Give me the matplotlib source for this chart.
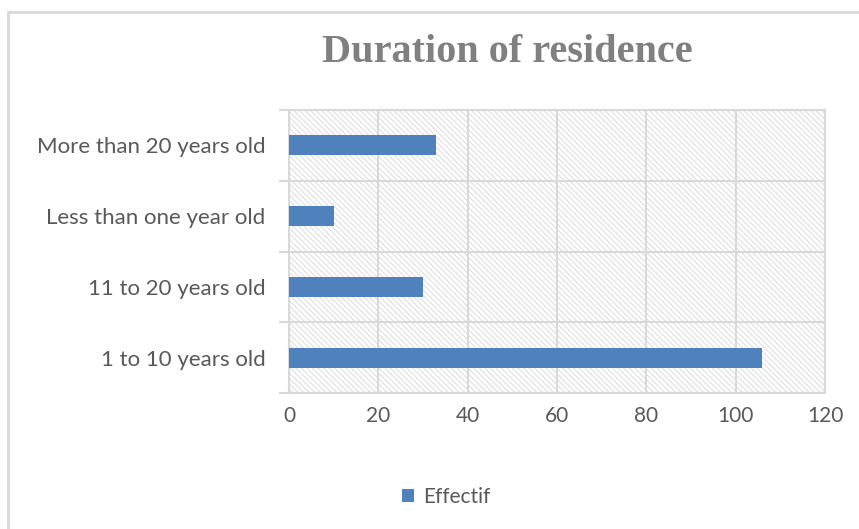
import matplotlib.pyplot as plt
from matplotlib.patches import Rectangle

categories = ["1 to 10 years old", "11 to 20 years old",
              "Less than one year old", "More than 20 years old"]
effectif = [106, 30, 10, 33]
x_ticks = [0, 20, 40, 60, 80, 100, 120]

grid_col = "#d9d9d9"
text_col = "#595959"
bar_col = "#4f81bd"

plt.rcParams["font.family"] = ["Lato", "DejaVu Sans"]
plt.rcParams["hatch.linewidth"] = 0.7

fig = plt.figure(figsize=(8.59, 5.29), dpi=100)
ax = fig.add_axes([289 / 859, 1 - 393 / 529, 536 / 859, 283 / 529])

# outer chart frame
fig.patches.append(Rectangle((7.5 / 859, -0.05), 1.1, 1 - 11.5 / 529 + 0.05,
                             transform=fig.transFigure, fill=False,
                             edgecolor=grid_col, linewidth=2))

# hatched plot area
ax.add_patch(Rectangle((0, 0), 1, 1, transform=ax.transAxes, facecolor="white",
                       edgecolor="#dcdcdc", linewidth=0, hatch="\\" * 6, zorder=0))

y = range(len(categories))
ax.barh(y, effectif, height=0.28, color=bar_col, label="Effectif", zorder=3)

ax.set_xlim(0, 120)
ax.set_ylim(-0.5, len(categories) - 0.5)
ax.set_xticks(x_ticks)
ax.set_yticks(list(y))
ax.set_yticklabels(categories)
ax.set_yticks([i - 0.5 for i in range(len(categories) + 1)], minor=True)

ax.tick_params(axis="x", length=0, pad=9, labelsize=15, labelcolor=text_col)
ax.tick_params(axis="y", which="major", length=0, pad=17, labelsize=16,
               labelcolor=text_col)
ax.tick_params(axis="y", which="minor", length=7, width=1.5, color=grid_col)

ax.grid(axis="x", color=grid_col, linewidth=1.5, zorder=1)
ax.grid(axis="y", which="minor", color=grid_col, linewidth=1.5, zorder=1)
ax.set_axisbelow(True)
for s in ax.spines.values():
    s.set_color(grid_col)
    s.set_linewidth(1.5)

fig.text(507 / 859, 1 - 52 / 529, "Duration of residence", ha="center", va="center",
         fontsize=29, fontweight="bold", color="#808080",
         family=["Liberation Serif", "DejaVu Serif"])

ax.legend(loc="center", bbox_to_anchor=(446 / 859, 1 - 497 / 529),
          bbox_transform=fig.transFigure, frameon=False, fontsize=15,
          labelcolor=text_col, handlelength=0.6, handleheight=0.6,
          handletextpad=0.4)

fig.savefig("out.png", dpi=100)
